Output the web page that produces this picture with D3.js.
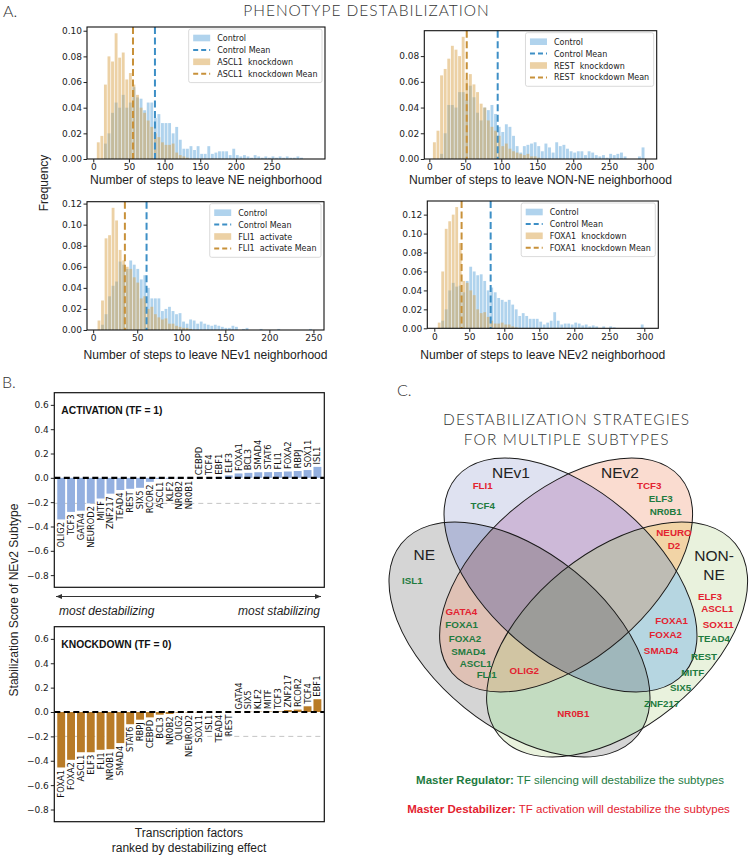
<!DOCTYPE html>
<html><head><meta charset="utf-8">
<script src="https://cdn.jsdelivr.net/npm/d3@7"></script>
<style>body{margin:0;background:#fff}svg{display:block}</style>
</head><body>
<svg id="fig" width="751" height="857"></svg>
<script>
// ================= DATA =================
// Panel A: histograms (fraction of runs per bin)
const histSubtypes = ["NE", "NON-NE", "NEv1", "NEv2"];
const histPerturbation = ["ASCL1  knockdown", "REST  knockdown", "FLI1  activate", "FOXA1  knockdown"];
const histBinWidth = [5, 5, 4, 5];
const ctrlBinStart = [15, 15, 9, 10];
const pertBinStart = [5, 5, 5, 5];
const ctrlNE = [0.012,0.020,0.036,0.044,0.040,0.050,0.040,0.044,0.056,0.048,0.047,0.038,0.044,0.044,0.032,0.035,0.028,0.028,0.028,0.020,0.025,0.015,0.008,0.008,0.010,0.007,0.010,0.004,0.004,0.010,0.004,0.005,0.006,0.006,0.006,0.003,0.008,0.003,0.002,0.003,0.002,0.001,0.003,0.002,0.001,0.002,0.001,0.002,0.001,0.002,0.001,0.002,0.001,0.001,0.002,0.001];
const pertNE = [0.013,0.018,0.058,0.080,0.076,0.098,0.079,0.083,0.062,0.067,0.058,0.050,0.040,0.036,0.030,0.025,0.020,0.017,0.013,0.011,0.011,0.012,0.005,0.003,0.002,0.001];
const ctrlNONNE = [0.004,0.020,0.042,0.042,0.040,0.052,0.052,0.046,0.057,0.048,0.036,0.030,0.040,0.038,0.042,0.035,0.025,0.021,0.027,0.025,0.018,0.010,0.005,0.010,0.011,0.012,0.013,0.010,0.006,0.012,0.009,0.005,0.013,0.010,0.011,0.008,0.006,0.005,0.006,0.006,0.003,0.006,0.005,0.003,0.002,0.003,0.001,0.004,0.003,0.004,0.005,0.002,0,0,0,0.002,0.009];
const pertNONNE = [0.013,0.022,0.065,0.070,0.078,0.088,0.085,0.080,0.095,0.062,0.066,0.058,0.052,0.043,0.040,0.030,0.025,0.022,0.018,0.010,0.012,0.008,0.006,0.005,0.004,0.003,0.004,0.002,0.002,0.001];
const ctrlNEv1 = [0.005,0.015,0.032,0.042,0.046,0.065,0.062,0.058,0.066,0.062,0.058,0.048,0.052,0.040,0.030,0.030,0.030,0.018,0.020,0.022,0.018,0.015,0.016,0.008,0.006,0.010,0.009,0.006,0.008,0.006,0.005,0.004,0.005,0.004,0.003,0.002,0.002,0.004,0.003,0,0.001,0.002,0,0,0,0.001,0,0,0,0,0.001,0,0,0,0,0,0,0,0,0.001];
const pertNEv1 = [0.009,0.028,0.087,0.090,0.116,0.104,0.076,0.066,0.060,0.058,0.050,0.045,0.030,0.032,0.020,0.022,0.015,0.012,0.010,0.011,0.006,0.006,0.004,0.003,0.002,0.002,0.001];
const ctrlNEv2 = [0.008,0.020,0.040,0.048,0.044,0.045,0.038,0.050,0.065,0.060,0.056,0.057,0.050,0.040,0.043,0.038,0.032,0.030,0.028,0.030,0.025,0.020,0.013,0.016,0.013,0.010,0.010,0.010,0.007,0.004,0.006,0.008,0.017,0.008,0.004,0.005,0.005,0.004,0.006,0.005,0.003,0.004,0.002,0.003,0.002,0,0.002,0,0.002,0.001,0,0,0,0,0,0,0,0.004];
const pertNEv2 = [0.006,0.060,0.105,0.113,0.120,0.128,0.090,0.050,0.048,0.040,0.035,0.020,0.016,0.017,0.012,0.008,0.005,0.005,0.006,0.004,0.004,0.002,0.001];
const ctrlMean = [86.5, 95, 60.6, 80.5];
const pertMean = [55.7, 52, 36, 39];
const histXDomain = [[-8.8, 325], [-7, 316], [-7, 262], [-10, 320]];
const histXTicks = [[0,50,100,150,200,250],[0,50,100,150,200,250,300],[0,50,100,150,200,250],[0,50,100,150,200,250,300]];
const histYTicks = [[0,0.02,0.04,0.06,0.08,0.10],[0,0.02,0.04,0.06,0.08],[0,0.02,0.04,0.06,0.08,0.10,0.12],[0,0.02,0.04,0.06,0.08,0.10,0.12]];

// Panel B: stabilization scores of NEv2 subtype
const activationTF = ["OLIG2","TCF3","GATA4","NEUROD2","MITF","ZNF217","TEAD4","REST","SIX5","RCOR2","ASCL1","KLF2","NR0B2","NR0B1","CEBPD","TCF4","EBF1","ELF3","FOXA1","BCL3","SMAD4","STAT6","FLI1","FOXA2","RBPJ","SOX11","ISL1"];
const activationScore = [-0.342,-0.28,-0.27,-0.21,-0.17,-0.13,-0.10,-0.09,-0.082,-0.033,-0.01,-0.008,-0.005,-0.003,0.001,0.002,0.004,0.02,0.036,0.041,0.046,0.047,0.048,0.052,0.056,0.064,0.09];
const knockdownTF = ["FOXA1","FOXA2","ASCL1","ELF3","FLI1","NR0B1","SMAD4","STAT6","RBPJ","CEBPD","BCL3","NR0B2","OLIG2","NEUROD2","SOX11","ISL1","TEAD4","REST","GATA4","SIX5","KLF2","MITF","TCF3","ZNF217","RCOR2","TCF4","EBF1"];
const knockdownScore = [-0.455,-0.392,-0.33,-0.33,-0.31,-0.305,-0.255,-0.10,-0.063,-0.044,-0.022,-0.016,-0.006,-0.004,-0.003,-0.002,-0.001,-0.001,0.001,0.002,0.003,0.004,0.005,0.016,0.02,0.047,0.105];
const scoreThreshold = [-0.21, -0.2];
const scoreTicks = [0.6,0.4,0.2,0,-0.2,-0.4,-0.6,-0.8];

// Panel C: Venn diagram
const vennSets = ["NE", "NEv1", "NEv2", "NON-NE"];
const vennTFText = ["FLI1","TCF4","TCF3","ELF3","NR0B1","NEURO","D2","ISL1","ELF3","ASCL1","SOX11","TEAD4","REST","MITF","SIX5","ZNF217","GATA4","FOXA1","FOXA2","SMAD4","ASCL1","FLI1","OLIG2","FOXA1","FOXA2","SMAD4","NR0B1"];
const vennTFRole = ["D","R","D","R","R","D","D","R","D","D","D","R","R","R","R","R","D","R","R","R","R","R","D","D","D","D","D"];

// ================= LAYOUT / STYLE =================
const SANS = "'Liberation Sans', Arial, Helvetica, sans-serif";
const MPL = "'DejaVu Sans', sans-serif";
const LIGHT = "Lato, 'Open Sans', sans-serif";
const CTRL_COLOR = "#62a8dc", PERT_COLOR = "#d9a34c";
const CTRL_MEAN = "#3d8fc6", PERT_MEAN = "#c8913a";
const RED = "#e32230", GREEN = "#1e7b3f";

const histLayout = [
  {x0: 87, x1: 325, y0: 27, y1: 159, labelY: 184, labelW: 232},
  {x0: 424.3, x1: 656.7, y0: 30.7, y1: 159, labelY: 184, labelW: 263},
  {x0: 87, x1: 324, y0: 201.7, y1: 330, labelY: 359, labelW: 244},
  {x0: 427.3, x1: 658.3, y0: 201, y1: 328.3, labelY: 359, labelW: 245}
];
const barLayout = [
  {x0: 54.3, x1: 324.3, y0: 392.7, y1: 587.3, title: "ACTIVATION (TF = 1)", color: "#94b0e0"},
  {x0: 54.3, x1: 324.3, y0: 626.7, y1: 821.7, title: "KNOCKDOWN (TF = 0)", color: "#b87b27"}
];
const vennEllipses = [
  {cx: 519.5, cy: 639.5, rx: 152.2, ry: 87.6, rot: 39},
  {cx: 570.5, cy: 575, rx: 150.3, ry: 84.2, rot: 40.7},
  {cx: 566.1, cy: 575, rx: 150.3, ry: 84.2, rot: -40.7},
  {cx: 617.1, cy: 639.5, rx: 152.2, ry: 87.6, rot: -39}
];
const vennRegionColor = {1:"#d5d5d5",2:"#dfe2f1",4:"#fadcd0",8:"#e9f2dd",3:"#b2b9d6",5:"#dfc1b5",9:"#c3dcc1",6:"#cdb9d8",10:"#b6d6e1",12:"#f2d4a6",7:"#a898ab",11:"#9fb7bb",13:"#d1c5a3",14:"#bebcb4",15:"#9c9c99"};
const vennSetLabelPos = [[[424.3,555]],[[511,473]],[[620,473]],[[714,556],[714,575]]];
const vennTFPos = [[482.7,485.7],[482.7,505.7],[649.3,485.7],[660.7,499],[665.7,511.7],[674,532.7],[674,545.7],[412.3,581],[710,596.3],[717.3,609],[718.3,624.3],[714,639],[704,656.7],[692.7,672.7],[680.7,687.7],[661.7,703.3],[461.3,611.7],[461.7,625],[465,639],[468.3,651.7],[475.7,663.3],[486.7,675],[524.3,671],[671.7,621],[665.7,635],[661,651],[573.3,713.3]];

const svg = d3.select("#fig");
const lightText = (x, y, size, txt, anchor, spacing) => svg.append("text").attr("x", x).attr("y", y)
  .attr("text-anchor", anchor || "start").attr("font-family", LIGHT).attr("font-weight", 300)
  .attr("font-size", size).attr("letter-spacing", spacing || 0).attr("fill", "#333").text(txt);

// ================= PANEL A =================
lightText(3, 17, 16, "A.");
lightText(366.5, 16, 15.5, "PHENOTYPE DESTABILIZATION", "middle", 1);
svg.append("text").attr("transform", "translate(48,183) rotate(-90)").attr("text-anchor", "middle")
  .attr("font-family", SANS).attr("font-size", 12).attr("fill", "#222").text("Frequency");

const ctrlSeries = [ctrlNE, ctrlNONNE, ctrlNEv1, ctrlNEv2];
const pertSeries = [pertNE, pertNONNE, pertNEv1, pertNEv2];

function drawHist(k) {
  const L = histLayout[k];
  const w = histBinWidth[k];
  const x = d3.scaleLinear().domain(histXDomain[k]).range([L.x0, L.x1]);
  const ymax = d3.max(ctrlSeries[k].concat(pertSeries[k])) * 1.05;
  const y = d3.scaleLinear().domain([0, ymax]).range([L.y1, L.y0]);
  const g = svg.append("g");
  const drawBars = (vals, start, color) => {
    g.append("g").selectAll("rect")
      .data(vals.map((v, i) => ({v, i})).filter(d => d.v > 0))
      .join("rect")
      .attr("x", d => x(start + d.i * w))
      .attr("width", d => Math.max(0.6, x(start + (d.i + 1) * w) - x(start + d.i * w) - 0.7))
      .attr("y", d => y(d.v)).attr("height", d => y(0) - y(d.v))
      .attr("fill", color).attr("fill-opacity", 0.5);
  };
  drawBars(ctrlSeries[k], ctrlBinStart[k], CTRL_COLOR);
  drawBars(pertSeries[k], pertBinStart[k], PERT_COLOR);
  [[ctrlMean[k], CTRL_MEAN], [pertMean[k], PERT_MEAN]].forEach(([m, c]) => {
    g.append("line").attr("x1", x(m)).attr("x2", x(m)).attr("y1", L.y0).attr("y2", L.y1)
      .attr("stroke", c).attr("stroke-width", 2).attr("stroke-dasharray", "7,3.5");
  });
  g.append("rect").attr("x", L.x0).attr("y", L.y0).attr("width", L.x1 - L.x0).attr("height", L.y1 - L.y0)
    .attr("fill", "none").attr("stroke", "#111").attr("stroke-width", 1.1);
  const xa = g.append("g").attr("transform", `translate(0,${L.y1})`)
    .call(d3.axisBottom(x).tickValues(histXTicks[k]).tickSize(3.5).tickPadding(1.5).tickFormat(d3.format("d")));
  const ya = g.append("g").attr("transform", `translate(${L.x0},0)`)
    .call(d3.axisLeft(y).tickValues(histYTicks[k]).tickSize(3.5).tickPadding(1.5).tickFormat(d3.format(".2f")));
  [xa, ya].forEach(a => {
    a.select(".domain").remove();
    a.selectAll("text").attr("font-family", MPL).attr("font-size", 9).attr("fill", "#222");
    a.selectAll("line").attr("stroke", "#222");
  });
  g.append("text").attr("x", (L.x0 + L.x1) / 2).attr("y", L.labelY).attr("text-anchor", "middle")
    .attr("font-family", SANS).attr("font-size", 12).attr("fill", "#222")
    .attr("textLength", L.labelW).attr("lengthAdjust", "spacingAndGlyphs")
    .text(`Number of steps to leave ${histSubtypes[k]} neighborhood`);
  // legend
  const items = [
    {t: "Control", type: "patch", c: CTRL_COLOR},
    {t: "Control Mean", type: "line", c: CTRL_MEAN},
    {t: histPerturbation[k], type: "patch", c: PERT_COLOR},
    {t: histPerturbation[k] + " Mean", type: "line", c: PERT_MEAN}
  ];
  const lg = g.append("g");
  const box = lg.append("rect");
  const texts = items.map(it => lg.append("text").attr("y", 0).attr("font-family", MPL).attr("font-size", 8)
    .attr("fill", "#222").style("white-space", "pre").text(it.t));
  const tw = d3.max(texts, t => t.node().getComputedTextLength());
  const bw = tw + 33, bh = 4 * 11.9 + 6;
  const bx = L.x1 - 3 - bw, by = L.y0 + 2;
  box.attr("x", bx).attr("y", by).attr("width", bw).attr("height", bh).attr("rx", 2)
    .attr("fill", "#fff").attr("fill-opacity", 0.85).attr("stroke", "#d0d0d0").attr("stroke-width", 0.8);
  items.forEach((it, i) => {
    const cy = by + 9 + i * 11.9;
    if (it.type === "patch") {
      lg.append("rect").attr("x", bx + 4.5).attr("y", cy - 3.3).attr("width", 17).attr("height", 6.6)
        .attr("fill", it.c).attr("fill-opacity", 0.5);
    } else {
      lg.append("line").attr("x1", bx + 4.5).attr("x2", bx + 21.5).attr("y1", cy).attr("y2", cy)
        .attr("stroke", it.c).attr("stroke-width", 2).attr("stroke-dasharray", "5,3");
    }
    texts[i].attr("x", bx + 28.5).attr("y", cy + 3);
  });
}
[0, 1, 2, 3].forEach(drawHist);

// ================= PANEL B =================
lightText(2, 388, 16, "B.");
svg.append("text").attr("transform", "translate(18,600) rotate(-90)").attr("text-anchor", "middle")
  .attr("font-family", SANS).attr("font-size", 12).attr("fill", "#222").text("Stabilization Score of NEv2 Subtype");

const barTF = [activationTF, knockdownTF];
const barScore = [activationScore, knockdownScore];
function drawScores(k) {
  const L = barLayout[k];
  const x = d3.scaleBand().domain(barTF[k]).range([L.x0, L.x1]).paddingInner(0.2).paddingOuter(0.3);
  const y = d3.scaleLinear().domain([-0.9, 0.7]).range([L.y1, L.y0]);
  const g = svg.append("g");
  g.append("line").attr("x1", L.x0).attr("x2", L.x1).attr("y1", y(scoreThreshold[k])).attr("y2", y(scoreThreshold[k]))
    .attr("stroke", "#c4c4c4").attr("stroke-width", 1).attr("stroke-dasharray", "5,4");
  const data = barTF[k].map((t, i) => ({t, v: barScore[k][i]}));
  g.append("g").selectAll("rect").data(data).join("rect")
    .attr("x", d => x(d.t)).attr("width", x.bandwidth())
    .attr("y", d => y(Math.max(0, d.v))).attr("height", d => Math.abs(y(d.v) - y(0)))
    .attr("fill", L.color);
  g.append("line").attr("x1", L.x0).attr("x2", L.x1).attr("y1", y(0)).attr("y2", y(0))
    .attr("stroke", "#000").attr("stroke-width", 2.2).attr("stroke-dasharray", "6,3.5");
  g.append("g").selectAll("text").data(data).join("text")
    .attr("transform", d => `translate(${x(d.t) + x.bandwidth() / 2},${d.v < 0 ? y(d.v) + 2.5 : y(d.v) - 2.5}) rotate(-90)`)
    .attr("text-anchor", d => d.v < 0 ? "end" : "start").attr("dy", "0.35em")
    .attr("font-family", MPL).attr("font-size", 8.4).attr("fill", "#111").text(d => d.t);
  g.append("rect").attr("x", L.x0).attr("y", L.y0).attr("width", L.x1 - L.x0).attr("height", L.y1 - L.y0)
    .attr("fill", "none").attr("stroke", "#111").attr("stroke-width", 1.2);
  const ya = g.append("g").attr("transform", `translate(${L.x0},0)`)
    .call(d3.axisLeft(y).tickValues(scoreTicks).tickSize(3.5).tickPadding(2).tickFormat(d3.format(".1f")));
  ya.select(".domain").remove();
  ya.selectAll("text").attr("font-family", MPL).attr("font-size", 9).attr("fill", "#222");
  ya.selectAll("line").attr("stroke", "#222");
  g.append("text").attr("x", L.x0 + 7).attr("y", L.y0 + 21).attr("font-family", SANS).attr("font-weight", "bold")
    .attr("font-size", 10.3).attr("fill", "#111").text(L.title);
}
[0, 1].forEach(drawScores);

const arrowY = 596.5;
svg.append("line").attr("x1", 56).attr("x2", 321).attr("y1", arrowY).attr("y2", arrowY)
  .attr("stroke", "#333").attr("stroke-width", 1);
svg.append("path").attr("d", `M56,${arrowY} l6,-2.6 v5.2 z M321,${arrowY} l-6,-2.6 v5.2 z`).attr("fill", "#333");
svg.append("text").attr("x", 59).attr("y", 615).attr("font-family", SANS).attr("font-style", "italic")
  .attr("font-size", 12).attr("fill", "#222").text("most destabilizing");
svg.append("text").attr("x", 320).attr("y", 615).attr("text-anchor", "end").attr("font-family", SANS)
  .attr("font-style", "italic").attr("font-size", 12).attr("fill", "#222").text("most stabilizing");
svg.append("text").attr("x", 189).attr("y", 837).attr("text-anchor", "middle").attr("font-family", SANS)
  .attr("font-size", 12).attr("fill", "#222").text("Transcription factors");
svg.append("text").attr("x", 189).attr("y", 852).attr("text-anchor", "middle").attr("font-family", SANS)
  .attr("font-size", 12).attr("fill", "#222").text("ranked by destabilizing effect");

// ================= PANEL C =================
lightText(397, 396, 16, "C.");
lightText(566.7, 425, 15.5, "DESTABILIZATION STRATEGIES", "middle", 1.1);
lightText(566.7, 445, 15.5, "FOR MULTIPLE SUBTYPES", "middle", 1.1);

const defs = svg.append("defs");
const ellAttrs = (sel, e) => sel.attr("cx", e.cx).attr("cy", e.cy).attr("rx", e.rx).attr("ry", e.ry)
  .attr("transform", `rotate(${e.rot},${e.cx},${e.cy})`);
vennEllipses.forEach((e, i) => ellAttrs(defs.append("clipPath").attr("id", "vc" + i).append("ellipse"), e));
const vg = svg.append("g");
const popcount = m => [0, 1, 2, 3].filter(i => m & (1 << i)).length;
d3.range(1, 16).sort((a, b) => popcount(a) - popcount(b) || a - b).forEach(m => {
  const idx = [0, 1, 2, 3].filter(i => m & (1 << i));
  let g = vg;
  idx.slice(1).forEach(j => { g = g.append("g").attr("clip-path", `url(#vc${j})`); });
  ellAttrs(g.append("ellipse"), vennEllipses[idx[0]]).attr("fill", vennRegionColor[m]);
});
vennEllipses.forEach(e => ellAttrs(vg.append("ellipse"), e).attr("fill", "none").attr("stroke", "#1a1a1a").attr("stroke-width", 1));

vennSets.forEach((s, i) => {
  const parts = s === "NON-NE" ? ["NON-", "NE"] : [s];
  parts.forEach((p, j) => {
    const [px, py] = vennSetLabelPos[i][j];
    svg.append("text").attr("x", px).attr("y", py).attr("dy", "0.35em").attr("text-anchor", "middle")
      .attr("font-family", SANS).attr("font-size", 15.5).attr("fill", "#222").text(p);
  });
});
svg.append("g").selectAll("text").data(vennTFText.map((t, i) => ({t, r: vennTFRole[i], p: vennTFPos[i]}))).join("text")
  .attr("x", d => d.p[0]).attr("y", d => d.p[1]).attr("dy", "0.35em").attr("text-anchor", "middle")
  .attr("font-family", SANS).attr("font-weight", "bold").attr("font-size", 9.8)
  .attr("fill", d => d.r === "D" ? RED : GREEN).text(d => d.t);

const leg1 = svg.append("text").attr("x", 570).attr("y", 783.5).attr("text-anchor", "middle")
  .attr("font-family", SANS).attr("font-size", 11.5).attr("fill", GREEN);
leg1.append("tspan").attr("font-weight", "bold").text("Master Regulator:");
leg1.append("tspan").text(" TF silencing will destabilize the subtypes");
const leg2 = svg.append("text").attr("x", 568.5).attr("y", 812.5).attr("text-anchor", "middle")
  .attr("font-family", SANS).attr("font-size", 11.5).attr("fill", RED);
leg2.append("tspan").attr("font-weight", "bold").text("Master Destabilizer:");
leg2.append("tspan").text(" TF activation will destabilize the subtypes");
</script>
</body></html>
